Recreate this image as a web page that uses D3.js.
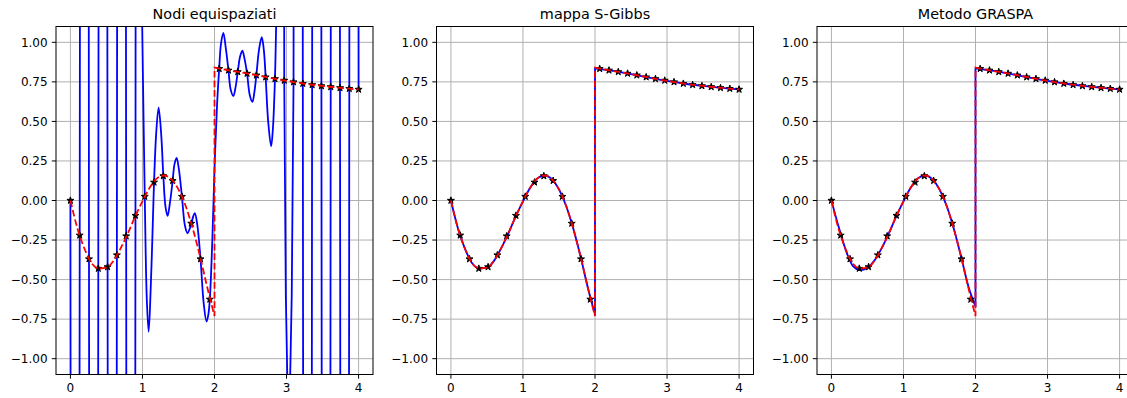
<!DOCTYPE html>
<html>
<head>
<meta charset="utf-8">
<script src="https://cdn.jsdelivr.net/npm/d3@7"></script>
<style>
  body { margin: 0; background: #fff; }
  svg { display: block; font-family: 'DejaVu Sans', sans-serif; }
</style>
</head>
<body>
<div id="chart"></div>
<script>
const titles = ['Nodi equispaziati', 'mappa S-Gibbs', 'Metodo GRASPA'];
const xTicks = [0, 1, 2, 3, 4];
const yTicks = [-1, -0.75, -0.5, -0.25, 0, 0.25, 0.5, 0.75, 1];
const yTickLabels = ['\u22121.00', '\u22120.75', '\u22120.50', '\u22120.25', '0.00', '0.25', '0.50', '0.75', '1.00'];

// interpolation nodes (black stars)
const nodeX = [0, 0.129, 0.258, 0.387, 0.516, 0.645, 0.774, 0.903, 1.032, 1.161, 1.290, 1.419, 1.548, 1.677, 1.806, 1.935,
               2.065, 2.194, 2.323, 2.452, 2.581, 2.710, 2.839, 2.968, 3.097, 3.226, 3.355, 3.484, 3.613, 3.742, 3.871, 4.0];
const nodeY = [0, -0.22, -0.37, -0.43, -0.42, -0.345, -0.225, -0.095, 0.025, 0.115, 0.155, 0.125, 0.025, -0.145, -0.37, -0.625,
               0.833, 0.823, 0.813, 0.803, 0.792, 0.780, 0.769, 0.759, 0.749, 0.739, 0.731, 0.724, 0.718, 0.712, 0.707, 0.702];

// true function (red dashed), left and right of the jump at x = 2
const funcLeftX = [0, 0.1, 0.2, 0.3, 0.4, 0.5, 0.6, 0.7, 0.8, 0.9, 1.0, 1.1, 1.2, 1.3, 1.4, 1.5, 1.6, 1.7, 1.8, 1.9, 2.0];
const funcLeftY = [0, -0.18, -0.31, -0.40, -0.43, -0.425, -0.38, -0.30, -0.205, -0.10, -0.005, 0.08, 0.14, 0.158, 0.135, 0.07, -0.035, -0.18, -0.355, -0.55, -0.73];
const funcRightX = [2.0, 2.25, 2.5, 2.75, 3.0, 3.25, 3.5, 3.75, 4.0];
const funcRightY = [0.84, 0.819, 0.799, 0.777, 0.756, 0.738, 0.724, 0.712, 0.702];

// interpolant on equispaced nodes (blue), runs off the axes between nodes
const equiLeftX = [0, 0.065, 0.129, 0.194, 0.258, 0.323, 0.387, 0.452, 0.516, 0.581, 0.645, 0.710, 0.774, 0.839, 0.903, 0.95, 0.995];
const equiLeftY = [0, -30, -0.22, 30, -0.37, -30, -0.43, 30, -0.42, -30, -0.345, 30, -0.225, -30, -0.095, 30, 1.15];
const equiMidX = [0.995, 1.032, 1.06, 1.086, 1.115, 1.14, 1.161, 1.19, 1.224, 1.26, 1.29, 1.32, 1.349, 1.38, 1.419, 1.445, 1.474, 1.505,
                  1.548, 1.59, 1.626, 1.655, 1.681, 1.705, 1.727, 1.76, 1.806, 1.85, 1.889, 1.915, 1.935, 1.97, 2.0, 2.035, 2.065,
                  2.09, 2.123, 2.155, 2.194, 2.225, 2.262, 2.29, 2.323, 2.355, 2.387, 2.415, 2.452, 2.49, 2.526, 2.555, 2.581,
                  2.62, 2.656, 2.685, 2.71, 2.745, 2.786, 2.81, 2.839, 2.857];
const equiMidY = [1.15, 0.025, -0.62, -0.83, -0.55, -0.2, 0.115, 0.42, 0.587, 0.42, 0.155, -0.04, -0.097, -0.02, 0.125, 0.23, 0.27, 0.2,
                  0.025, -0.16, -0.207, -0.18, -0.145, -0.1, -0.08, -0.15, -0.37, -0.65, -0.765, -0.72, -0.625, -0.25, 0.2, 0.6, 0.833,
                  0.99, 1.06, 0.97, 0.823, 0.7, 0.661, 0.71, 0.813, 0.91, 0.947, 0.9, 0.803, 0.665, 0.623, 0.69, 0.792,
                  0.96, 1.032, 0.95, 0.78, 0.5, 0.343, 0.45, 0.769, 1.15];
const equiRightX = [2.857, 2.91, 2.968, 2.99, 3.03, 3.072, 3.097, 3.16, 3.226, 3.29, 3.355, 3.42, 3.484, 3.55, 3.613, 3.68, 3.742, 3.81, 3.871, 3.935, 4.0];
const equiRightY = [1.15, 30, 0.759, -0.6, -1.6, -0.6, 0.749, 30, 0.739, -30, 0.731, 30, 0.724, -30, 0.718, 30, 0.712, -30, 0.707, 30, 0.702];

// S-Gibbs interpolant (blue)
const sGibbsLeftY = [0, -0.18, -0.31, -0.40, -0.43, -0.425, -0.38, -0.30, -0.205, -0.10, -0.005, 0.08, 0.14, 0.158, 0.135, 0.07, -0.035, -0.18, -0.355, -0.55, -0.72];
const sGibbsRightY = [0.835, 0.819, 0.799, 0.777, 0.756, 0.738, 0.724, 0.712, 0.702];

// GRASPA interpolant (blue)
const graspaLeftY = [0, -0.165, -0.315, -0.415, -0.44, -0.425, -0.378, -0.30, -0.205, -0.10, -0.005, 0.08, 0.14, 0.158, 0.135, 0.07, -0.035, -0.18, -0.355, -0.54, -0.67];
const graspaRightY = [0.835, 0.819, 0.799, 0.777, 0.756, 0.738, 0.724, 0.712, 0.702];

const width = 1127, height = 398;
const panelLeft = [56, 436.5, 817];
const panelWidth = 317;
const plotTop = 26.5, plotBottom = 374.5;

const svg = d3.select('#chart')
              .append('svg')
              .attr('width', width)
              .attr('height', height);

svg.append('rect')
   .attr('width', width)
   .attr('height', height)
   .attr('fill', '#fff');

const zip = (xs, ys) => xs.map((x, i) => [x, ys[i]]);

function drawPanel(i, blueParts, blueCurve) {
    const left = panelLeft[i], right = left + panelWidth;
    const x = d3.scaleLinear().domain([-0.2, 4.2]).range([left, right]);
    const y = d3.scaleLinear().domain([-1.1, 1.1]).range([plotBottom, plotTop]);

    const g = svg.append('g');

    g.append('clipPath')
     .attr('id', 'clip' + i)
     .append('rect')
     .attr('x', left)
     .attr('y', plotTop)
     .attr('width', panelWidth)
     .attr('height', plotBottom - plotTop);

    // grid
    g.selectAll('.gx')
     .data(xTicks)
     .enter()
       .append('line')
       .attr('x1', d => x(d)).attr('x2', d => x(d))
       .attr('y1', plotTop).attr('y2', plotBottom)
       .attr('stroke', '#b0b0b0')
       .attr('stroke-width', 1);
    g.selectAll('.gy')
     .data(yTicks)
     .enter()
       .append('line')
       .attr('x1', left).attr('x2', right)
       .attr('y1', d => y(d)).attr('y2', d => y(d))
       .attr('stroke', '#b0b0b0')
       .attr('stroke-width', 1);

    const plot = g.append('g').attr('clip-path', 'url(#clip' + i + ')');

    const lineLinear = d3.line().x(d => x(d[0])).y(d => y(d[1]));
    const lineSmooth = d3.line().x(d => x(d[0])).y(d => y(d[1])).curve(d3.curveMonotoneX);
    const lineCatmull = d3.line().x(d => x(d[0])).y(d => y(d[1])).curve(d3.curveCatmullRom.alpha(0.5));

    // blue interpolant, pieces joined into one path
    const bluePath = blueParts.map((p, k) => {
        const gen = blueCurve[k] === 'catmull' ? lineCatmull
                  : (blueCurve[k] === 'smooth' ? lineSmooth : lineLinear);
        const s = gen(p);
        return k === 0 ? s : s.replace(/^M/, 'L');
    }).join('');

    plot.append('path')
        .attr('d', bluePath)
        .attr('fill', 'none')
        .attr('stroke', '#0000ff')
        .attr('stroke-width', 1.8)
        .attr('stroke-linejoin', 'round');

    // nodes
    const star = d3.symbol().type(d3.symbolStar).size(15);
    plot.selectAll('.node')
        .data(zip(nodeX, nodeY))
        .enter()
          .append('path')
          .attr('d', star)
          .attr('transform', d => 'translate(' + x(d[0]) + ',' + y(d[1]) + ')')
          .attr('fill', '#000')
          .attr('stroke', '#000')
          .attr('stroke-width', 1);

    // true function
    const redPath = lineSmooth(zip(funcLeftX, funcLeftY)) +
                    lineSmooth(zip(funcRightX, funcRightY)).replace(/^M/, 'L');
    plot.append('path')
        .attr('d', redPath)
        .attr('fill', 'none')
        .attr('stroke', '#ff0000')
        .attr('stroke-width', 1.8)
        .attr('stroke-dasharray', '6.7,2.9');

    // spines
    g.append('rect')
     .attr('x', left)
     .attr('y', plotTop)
     .attr('width', panelWidth)
     .attr('height', plotBottom - plotTop)
     .attr('fill', 'none')
     .attr('stroke', '#000')
     .attr('stroke-width', 1);

    // ticks
    g.selectAll('.tx')
     .data(xTicks)
     .enter()
       .append('line')
       .attr('x1', d => x(d)).attr('x2', d => x(d))
       .attr('y1', plotBottom).attr('y2', plotBottom + 4.2)
       .attr('stroke', '#000');
    g.selectAll('.lx')
     .data(xTicks)
     .enter()
       .append('text')
       .attr('x', d => x(d))
       .attr('y', plotBottom + 17.5)
       .attr('text-anchor', 'middle')
       .attr('font-size', '12px')
       .attr('fill', '#000')
       .text(d => d);

    g.selectAll('.ty')
     .data(yTicks)
     .enter()
       .append('line')
       .attr('x1', left - 4.2).attr('x2', left)
       .attr('y1', d => y(d)).attr('y2', d => y(d))
       .attr('stroke', '#000');
    g.selectAll('.ly')
     .data(yTicks)
     .enter()
       .append('text')
       .attr('x', left - 8.4)
       .attr('y', d => y(d) + 4.3)
       .attr('text-anchor', 'end')
       .attr('font-size', '12px')
       .attr('fill', '#000')
       .text((d, j) => yTickLabels[j]);

    g.append('text')
     .attr('x', (left + right) / 2)
     .attr('y', plotTop - 7.5)
     .attr('text-anchor', 'middle')
     .attr('font-size', '14.4px')
     .attr('fill', '#000')
     .text(titles[i]);
}

drawPanel(0,
          [zip(equiLeftX, equiLeftY), zip(equiMidX, equiMidY), zip(equiRightX, equiRightY)],
          ['linear', 'catmull', 'linear']);
drawPanel(1,
          [zip(funcLeftX, sGibbsLeftY), zip(funcRightX, sGibbsRightY)],
          ['smooth', 'smooth']);
drawPanel(2,
          [zip(funcLeftX, graspaLeftY), zip(funcRightX, graspaRightY)],
          ['smooth', 'smooth']);
</script>
</body>
</html>
